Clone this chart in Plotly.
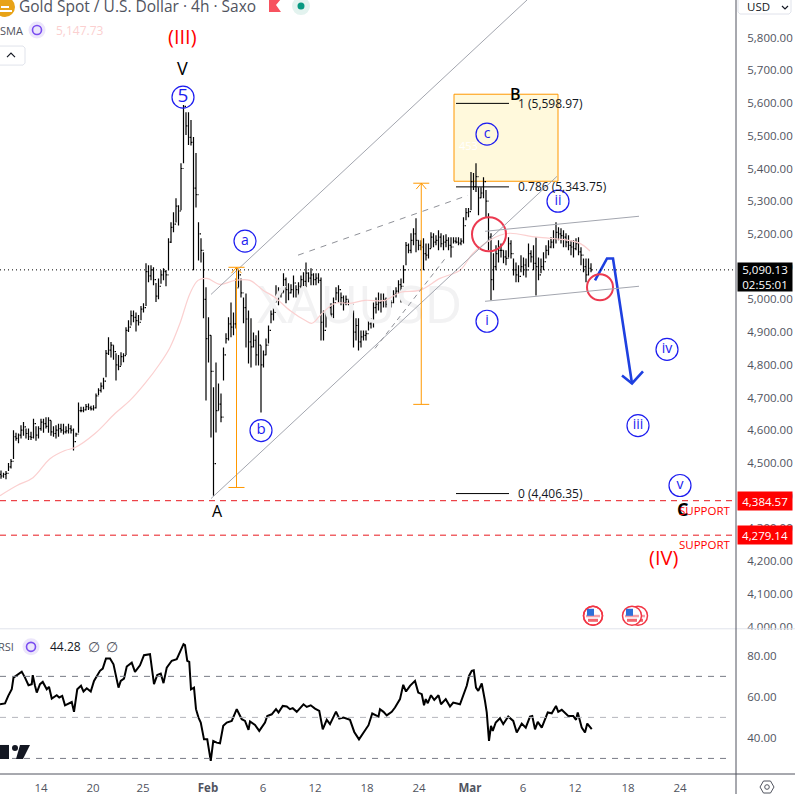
import plotly.graph_objects as go

# XAUUSD 4h, values, one bar per entry
bar_high = [
    4477,4470,4475,4500,4512,4600,4592,4590,4615,4625,
    4605,4605,4595,4635,4612,4612,4635,4635,4640,4640,
    4630,4612,4615,4620,4620,4620,4612,4620,4615,4605,
    4592,4685,4672,4672,4680,4682,4675,4676,4712,4728,
    4746,4760,4845,4884,4870,4860,4835,4830,4838,4835,
    4915,4936,4966,4966,4960,4952,4980,4988,5110,5104,
    5104,5098,5050,5064,5089,5095,5090,5187,5236,5266,
    5309,5288,5416,5594,5572,5572,5548,5496,5447,5236,
    5187,5144,5037,4945,4890,4731,4807,4743,4712,4853,
    4896,4945,4990,4960,5064,5089,5064,5006,5018,4966,
    4942,4899,4890,4905,4859,4844,4880,4920,4966,4975,
    5043,5037,5034,5080,5067,5049,5046,5073,5043,5052,
    5073,5083,5113,5083,5095,5080,5080,5080,5067,4966,
    4990,4988,4988,5006,5037,5043,5021,5012,5012,4997,
    4997,4966,4942,4942,4905,4905,4905,4942,4942,4990,
    5006,5021,5018,5018,5006,5003,4997,5028,5037,5058,
    5064,5104,5175,5171,5202,5217,5248,5181,5181,5187,
    5171,5171,5205,5202,5196,5211,5202,5196,5199,5190,
    5190,5190,5190,5190,5187,5251,5279,5279,5389,5386,
    5416,5343,5343,5373,5334,5263,5202,5141,5165,5181,
    5171,5150,5150,5190,5181,5125,5113,5104,5135,5128,
    5125,5171,5150,5165,5190,5128,5125,5144,5165,5181,
    5190,5211,5236,5220,5217,5211,5202,5196,5181,5181,
    5187,5190,5159,5125,5125,5125,5110,
]
bar_low = [
    4452,4455,4450,4475,4483,4512,4568,4560,4575,4583,
    4575,4570,4570,4575,4568,4575,4598,4592,4605,4592,
    4583,4580,4575,4580,4592,4587,4590,4590,4590,4538,
    4580,4592,4655,4655,4660,4662,4660,4660,4666,4708,
    4715,4725,4762,4830,4822,4815,4752,4783,4798,4808,
    4830,4900,4920,4930,4902,4920,4936,4960,4980,5052,
    5058,5043,4992,5000,5048,5058,5040,5089,5172,5205,
    5235,5226,5272,5416,5502,5472,5470,5089,5281,5119,
    5113,4942,4691,4807,4578,4400,4593,4660,4624,4752,
    4865,4874,4884,4890,4911,5037,5006,4927,4853,4804,
    4792,4853,4798,4798,4654,4792,4829,4865,4927,4935,
    4990,4982,5006,5021,4988,4997,5018,5006,5006,5012,
    5034,5037,5037,5052,5043,5043,5043,5049,4874,4874,
    4914,4942,4942,4942,4997,4990,4982,4966,4982,4982,
    4982,4853,4874,4844,4853,4874,4874,4905,4911,4914,
    4957,4966,4960,4975,4975,4978,4975,4988,5006,5018,
    4990,5049,5104,5141,5141,5165,5144,5150,5150,5089,
    5119,5125,5156,5159,5165,5150,5159,5150,5159,5150,
    5128,5171,5171,5165,5165,5171,5242,5251,5272,5334,
    5328,5257,5309,5309,5251,5150,4997,5028,5089,5113,
    5128,5110,5104,5128,5125,5073,5052,5052,5083,5073,
    5067,5098,5113,5089,5012,5058,5080,5089,5125,5135,
    5156,5156,5171,5181,5171,5159,5159,5150,5135,5128,
    5150,5135,5104,5083,5052,5073,5083,
]
bar_close = [
    4460,4465,4468,4488,4505,4580,4575,4585,4600,4610,
    4590,4580,4578,4620,4585,4605,4625,4620,4612,4630,
    4595,4590,4600,4605,4600,4595,4598,4605,4600,4565,
    4588,4660,4660,4662,4672,4668,4665,4668,4705,4722,
    4735,4750,4835,4845,4860,4840,4800,4795,4825,4828,
    4905,4915,4950,4945,4935,4930,4970,4975,5085,5072,
    5090,5060,5010,5040,5075,5085,5075,5175,5220,5230,
    5285,5270,5400,5590,5530,5495,5480,5340,5320,5200,
    5150,5000,4880,4890,4780,4498,4660,4680,4640,4830,
    4880,4925,4915,4925,5035,5075,5020,4975,4940,4870,
    4855,4875,4830,4860,4800,4830,4860,4905,4955,4960,
    5000,5025,5020,5060,5030,5020,5030,5050,5030,5040,
    5060,5055,5080,5065,5075,5060,5065,5058,4930,4905,
    4960,4975,4955,4990,5020,5030,5005,4990,5000,4990,
    4985,4900,4920,4870,4885,4890,4895,4925,4930,4975,
    4985,4990,4995,5000,4985,4995,4990,5015,5025,5045,
    5040,5090,5165,5150,5180,5200,5180,5165,5160,5140,
    5135,5155,5190,5175,5180,5190,5170,5175,5180,5165,
    5160,5178,5175,5172,5178,5225,5265,5268,5360,5345,
    5375,5310,5325,5360,5300,5190,5060,5100,5140,5150,
    5150,5130,5125,5170,5140,5090,5075,5070,5100,5105,
    5090,5140,5130,5110,5100,5075,5100,5115,5150,5160,
    5175,5185,5205,5200,5195,5190,5175,5165,5160,5155,
    5170,5145,5135,5100,5075,5095,5090.13,
]
bar_open = [
    4465,4460,4465,4468,4488,4505,4580,4575,4585,4600,
    4610,4590,4580,4578,4620,4585,4605,4625,4620,4612,
    4630,4595,4590,4600,4605,4600,4595,4598,4605,4600,
    4565,4588,4660,4660,4662,4672,4668,4665,4668,4705,
    4722,4735,4750,4835,4845,4860,4840,4800,4795,4825,
    4828,4905,4915,4950,4945,4935,4930,4970,4975,5085,
    5072,5090,5060,5010,5040,5075,5085,5075,5175,5220,
    5230,5285,5270,5400,5590,5530,5495,5480,5340,5320,
    5200,5150,5000,4880,4890,4780,4498,4660,4680,4640,
    4830,4880,4925,4915,4925,5035,5075,5020,4975,4940,
    4870,4855,4875,4830,4860,4800,4830,4860,4905,4955,
    4960,5000,5025,5020,5060,5030,5020,5030,5050,5030,
    5040,5060,5055,5080,5065,5075,5060,5065,5058,4930,
    4905,4960,4975,4955,4990,5020,5030,5005,4990,5000,
    4990,4985,4900,4920,4870,4885,4890,4895,4925,4930,
    4975,4985,4990,4995,5000,4985,4995,4990,5015,5025,
    5045,5040,5090,5165,5150,5180,5200,5180,5165,5160,
    5140,5135,5155,5190,5175,5180,5190,5170,5175,5180,
    5165,5160,5178,5175,5172,5178,5225,5265,5268,5360,
    5345,5375,5310,5325,5360,5300,5190,5060,5100,5140,
    5150,5150,5130,5125,5170,5140,5090,5075,5070,5100,
    5105,5090,5140,5130,5110,5100,5075,5100,5115,5150,
    5160,5175,5185,5205,5200,5195,5190,5175,5165,5160,
    5155,5170,5145,5135,5100,5075,5095,
]

sma_idx = [
    -0.4,6.4,12.8,19.6,25.6,29.6,37.6,45.6,51.6,57.6,63.6,67.6,71.6,75.6,78.8,82.4,
    87.6,93.6,99.6,104.8,109.6,115.6,121.6,124.4,128.4,133.6,139.6,145.6,153.6,159.6,
    167.6,175.6,183.6,188.8,195.6,199.6,203.6,214.4,226.4,231.6,235.6,
]
sma_val = [
    4400,4431,4455,4513,4538,4547,4590,4651,4691,4743,4804,4853,4927,5018,5058,5064,
    5046,5058,5058,5028,5006,4966,4936,4927,4957,4988,4988,4997,4997,5021,
    5028,5064,5089,5141,5181,5196,5202,5190,5181,5171,5147.73,
]

rsi_idx = [
    -0.4,1.6,2.9,4.3,5,7,8.3,9.6,11,12.3,12.7,13.6,14.3,15.6,16.7,18.3,19.2,20.3,22.3,23.3,
    24.5,25.6,28.3,29.2,30.5,32,33,34.3,35.9,37.2,39.6,40.7,42,43.6,45,47,47.9,49.2,50.3,52.3,
    53.6,55.6,57.2,59.6,61.2,62.5,63.9,65,66.3,68.3,70.3,73,73.6,74.5,75.3,76,77.2,78,79,79.9,
    81.2,82.5,83.9,84.9,86.3,87.6,88.9,90.3,92.3,94.3,96.3,97.6,99,99.6,101.6,103.3,105.6,106.5,108.3,110,
    111,112.7,114.3,115.6,116.7,118.3,121,122.3,123.9,125.6,127.3,128.7,130.3,131.6,134,135.3,137,139.6,141.3,143.2,
    145,147,148.5,151,151.6,153,154.3,156.3,157.6,159.6,160.9,162,163.6,165.6,166.9,168.3,169.2,169.9,170.7,172,
    173.3,175,176,177.9,179.6,180.9,183.6,184.9,186.3,187.2,188.3,189.1,190,190.9,192.3,193.6,194.3,195.2,196,196.7,
    197.9,199.6,200.9,202.9,204.9,206.3,208.3,209.9,211.6,212.5,213.6,214.7,216.3,218.7,220.3,222,222.9,224.3,226.9,228.9,
    230,230.7,232.3,233.6,234.5,236.3,
]
rsi_val = [
    56.4,56.8,60.5,63.7,69.4,71,72.3,69.4,65.7,66.2,70.6,65.4,62.1,66.2,67.3,63.7,64.9,59.2,60.8,59.7,
    60.5,55.9,57.5,52.7,63.7,65.4,62.6,64.2,62.6,67.8,72.7,73.8,78.7,78.7,75.9,64.5,67.8,68.9,74.8,76.7,
    72.2,75.4,80.3,80.8,66.2,70.7,71.4,66.7,74.3,77.6,78.4,85.7,85.2,77.6,77.1,63.7,64.5,54,49.9,47.5,
    39.3,39.3,28.8,38.5,37.7,37.4,45.9,47.5,48.3,54,49.1,48.3,43.9,48,46.3,43.4,47.5,50.7,51.5,54,
    52.4,55.6,55.3,54,54.5,52.7,56.4,55.1,55.9,54.3,53.2,44.2,48.8,46.7,52.8,49.4,49.9,48.8,42.9,39.3,
    42.6,46.2,51.9,50.4,54,52.7,51,52.7,54.8,58.9,65.9,62.6,65.4,67.8,62.1,61.3,55.9,58.9,56.9,60.8,
    58.5,60.8,56.4,58.9,55.3,57.2,56.4,61.3,65.4,70.2,72.7,73,64.5,62.9,66.5,58,52.4,38.5,45.9,43.4,
    47.5,49.6,46.7,50.4,48.3,42.6,47,45,50.4,50.7,44.2,47.8,45,52.4,52,55.6,52.7,53.7,50.7,50.7,
    48.8,52.4,45,42.6,47,44.28,
]

date_idx = [16,36.8,56.8,82.8,104.8,125.6,146.4,167.2,187.6,208.8,229.6,250.8,271.6]
date_labels = ["14","20","25","<b>Feb</b>","6","12","18","24","<b>Mar</b>","6","12","18","24"]
price_ticks = [4000,4100,4200,4300,4400,4500,4600,4700,4800,4900,5000,5100,5200,5300,5400,5500,5600,5700,5800]
rsi_ticks = [40,60,80]

last_price = 5090.13
support_levels = [4384.57,4279.14]
fib_prices = [5598.97,5343.75,4406.35]
fib_labels = ["1 (5,598.97)","0.786 (5,343.75)","0 (4,406.35)"]

wave_idx = [72.8,97.6,104,194.4,194.4,222.8,254.8,266.4,271.6]
wave_price = [5618,5178,4599,5505,4933,5300,4614,4847,4431]
wave_labels = ["5","a","b","c","i","ii","iii","iv","v"]
wave_sizes = [19,14,15,14,14,14,14,14,14]

ring_idx = [195.2,239.6]
ring_price = [5199,5037]
ring_sizes = [34,26]

arrow_idx = [237.6,242.4,244.8,252.4,None,248.4,252.4,256.8]
arrow_price = [5058,5125,5125,4743,None,4767,4743,4780]

FONT = "Open Sans"
TEXT = "#50535e"
GREY = "#a3a6af"
ORANGE = "#ff9800"
BLUE = "#1c1cf0"
RED = "#ff0000"

# pixel helpers for the chrome around the panes (legend, icons)
def XP(x):
    return x / 736

def YP(y):
    return 1 - y / 773

def line(x0, y0, x1, y1, color, width=1, dash=None, xref="x", yref="y", layer="above"):
    return dict(type="line", x0=x0, y0=y0, x1=x1, y1=y1, xref=xref, yref=yref, layer=layer,
                line=dict(color=color, width=width, dash=dash))

def chrome_path(points, color, width=1, fill=None, close=False):
    d = "M" + " L".join(f"{XP(x):.5f},{YP(y):.5f}" for x, y in points) + (" Z" if close else "")
    return dict(type="path", path=d, xref="paper", yref="paper", layer="above",
                line=dict(color=color, width=width), fillcolor=fill)

def chrome_circle(cx, cy, r, color, width=1, fill=None):
    return dict(type="circle", x0=XP(cx-r), x1=XP(cx+r), y0=YP(cy+r), y1=YP(cy-r), xref="paper", yref="paper",
                layer="above", line=dict(color=color, width=width), fillcolor=fill)

def chrome_rect(x0, y0, x1, y1, fill):
    return dict(type="rect", x0=XP(x0), x1=XP(x1), y0=YP(y1), y1=YP(y0), xref="paper", yref="paper",
                layer="above", line=dict(width=0), fillcolor=fill)

def flag(cx, cy):
    s = [chrome_circle(cx, cy, 9.5, "#f23645", 1.5, "#ffffff"),
         chrome_rect(cx-7, cy-1, cx+7, cy+1.5, "#f5a0a8"),
         chrome_rect(cx-5, cy+3, cx+5, cy+6, "#f2666f"),
         chrome_rect(cx-6, cy-7, cx+1, cy, "#2f6fd8")]
    return s

def sync_icon(cx, cy):
    return [chrome_circle(cx, cy, 8.5, "rgba(0,0,0,0)", 0, "#ece6fb"),
            chrome_circle(cx, cy, 4.5, "#7a4df0", 1.6, "rgba(0,0,0,0)")]

fig = go.Figure()

fig.add_trace(go.Scatter(x=[143.5], y=[4966], mode="text", text=["XAUUSD"], cliponaxis=False, hoverinfo="skip",
                         textfont=dict(family=FONT, size=52, color="#f2f2f3"), textposition="middle center"))
fig.add_trace(go.Scatter(x=sma_idx, y=sma_val, mode="lines", hoverinfo="skip",
                         line=dict(color="#fbd0d0", width=1.2, shape="spline")))
fig.add_trace(go.Ohlc(x=list(range(len(bar_close))), open=bar_open, high=bar_high, low=bar_low, close=bar_close,
                      increasing_line_color="#000000", decreasing_line_color="#000000",
                      line_width=1.2, tickwidth=0.4, hoverinfo="skip"))
fig.add_trace(go.Scatter(x=arrow_idx, y=arrow_price, mode="lines", hoverinfo="skip",
                         line=dict(color="#1e40e0", width=2.6)))
fig.add_trace(go.Scatter(x=ring_idx, y=ring_price, mode="markers", hoverinfo="skip",
                         marker=dict(symbol="circle-open", size=ring_sizes, opacity=1, color="#ec3a50",
                                     line=dict(width=2, color="#ec3a50"))))
fig.add_trace(go.Scatter(x=wave_idx, y=wave_price, mode="markers+text", text=wave_labels, hoverinfo="skip",
                         textposition="middle center", cliponaxis=False,
                         textfont=dict(family=FONT, size=wave_sizes, color=BLUE),
                         marker=dict(size=22, color="rgba(255,255,255,0)", line=dict(width=1.2, color=BLUE))))
fig.add_trace(go.Scatter(x=rsi_idx, y=rsi_val, mode="lines", xaxis="x2", yaxis="y2", hoverinfo="skip",
                         line=dict(color="#000000", width=2)))

shapes = []
# drawn tools, anchored on bar number and price
shapes.append(dict(type="rect", x0=181.2, x1=222.8, y0=5361, y1=5627, xref="x", yref="y", layer="below",
                   fillcolor="#fff9dc", line=dict(color=ORANGE, width=1)))
shapes += [line(84, 5015, 210.4, 5915, GREY),
           line(84, 4391, 222.4, 5376, GREY),
           line(118.8, 5135, 186.8, 5318, "#8f9198", 1, "6px,6px"),
           line(149.6, 4850, 178.4, 5132, "#8f9198", 1, "5px,4px"),
           line(193.6, 5208, 255.2, 5254, GREY),
           line(193.6, 4994, 255.2, 5040, GREY)]
for x, top, bottom in [(94.2, 5098, 4425), (168.1, 5355, 4679)]:
    shapes += [line(x, top, x, bottom, ORANGE),
               line(x-3.2, top, x+3.2, top, ORANGE),
               line(x-3.2, bottom, x+3.2, bottom, ORANGE),
               line(x-2, top-18, x, top, ORANGE),
               line(x+2, top-18, x, top, ORANGE)]
for p in fib_prices:
    shapes.append(line(182, p, 203.2, p, "#000000"))
for p in support_levels:
    shapes.append(line(-0.4, p, 294, p, "#e8181e", 1, "6px,5px"))
shapes.append(line(-0.4, last_price, 294, last_price, "#000000", 1, "1px,3px"))
for level, color in [(70, "#787b86"), (50, "#b4b6bc"), (30, "#787b86")]:
    shapes.append(line(-0.4, level, 292, level, color, 1, "6px,6px", xref="x2", yref="y2"))

# pane borders
shapes += [line(0, YP(628), 795/736, YP(628), "#e0e3eb", 1, None, "paper", "paper"),
           line(0, YP(773), 795/736, YP(773), "#50535e", 1, None, "paper", "paper"),
           line(1, YP(0), 1, YP(794), "#50535e", 1, None, "paper", "paper")]
shapes.append(chrome_rect(737, 629, 795, 635, "#ffffff"))

# legend icons
shapes.append(chrome_circle(5, 7, 10, "#e8a317", 0, "#e8a317"))
shapes += [chrome_rect(1, 6, 9, 8, "#ffffff"), chrome_rect(0, 10, 12, 12, "#ffffff")]
shapes.append(chrome_path([(269, -1), (281, -1), (276, 5), (281, 12), (269, 12)], "#f7525f", 0, "#f7525f", True))
shapes += [chrome_circle(301, 6, 9, "#e3f3ef", 0, "#e3f3ef"), chrome_circle(301, 6, 3.5, "#089981", 0, "#089981")]
shapes += sync_icon(37, 30) + sync_icon(31, 646)
shapes += [chrome_path([(-3, 46), (23, 46), (25, 48), (25, 63), (23, 65), (-3, 65)], "#e0e3eb"),
           chrome_path([(7, 57), (11, 53), (15, 57)], "#131722", 1.2)]
shapes += [chrome_path([(738, -3), (738, 12), (740, 14), (789, 14), (791, 12), (791, -3)], "#e0e3eb"),
           chrome_path([(782, 6), (785, 9), (788, 6)], "#131722", 1.2)]
# chart logo, cut off by the pane
shapes += [chrome_rect(0, 744, 9, 758, "#131722"),
           chrome_circle(15, 747, 3, "#131722", 0, "#131722"),
           chrome_path([(20, 744), (30, 744), (23, 758), (16, 758)], "#131722", 0, "#131722", True)]
# calendar flags
for cx in (638, 632, 593):
    shapes += flag(cx, 615)
shapes.append(chrome_circle(593, 615, 9.5, "#f23645", 1.5))
# settings gear
shapes += [chrome_path([(760, 786), (763.5, 780), (770.5, 780), (774, 786), (770.5, 792), (763.5, 792)], "#50535e", 1, None, True),
           chrome_circle(767, 786, 2.3, "#50535e", 1)]

def data_text(x, y, text, size, color, xanchor="center", weight=None):
    return dict(x=x, y=y, xref="x", yref="y", text=text, showarrow=False, xanchor=xanchor, yanchor="middle",
                font=dict(family=FONT, size=size, color=color, weight=weight))

def chrome_text(x, y, text, size, color, xanchor="left"):
    return dict(x=XP(x), y=YP(y), xref="paper", yref="paper", text=text, showarrow=False, xanchor=xanchor,
                yanchor="middle", font=dict(family=FONT, size=size, color=color))

def price_tag(text, fill, height, center):
    return dict(x=737/736, y=center, xref="paper", yref="y", text=text, showarrow=False, xanchor="left",
                yanchor="middle", width=54, height=height, bgcolor=fill, align="center", borderpad=0,
                font=dict(family=FONT, size=11.5, color="#ffffff"))

annotations = [
    data_text(72.4, 5802, "(III)", 20, RED),
    data_text(72.4, 5707, "V", 18, "#000000"),
    data_text(205.6, 5627, "B", 16, "#000000", weight=600),
    data_text(86.4, 4354, "A", 16, "#000000"),
    data_text(272.4, 4360, "C", 18, "#000000", weight=700),
    data_text(281.4, 4354, "SUPPORT", 11.5, RED),
    data_text(281.4, 4250, "SUPPORT", 11.5, RED),
    data_text(264.8, 4210, "(IV)", 20, RED),
    data_text(182.4, 5470, "453", 11, "#ffffff", "left"),
]
for p, t in zip(fib_prices, fib_labels):
    annotations.append(data_text(206, p, t, 12, "#131722", "left"))
annotations += [price_tag(f"{p:,.2f}", RED, 18, p) for p in support_levels]
annotations.append(price_tag(f"{last_price:,.2f}<br>02:55:01", "#000000", 28, 5067))
annotations += [
    chrome_text(17, 6, "Gold Spot / U.S. Dollar · 4h · Saxo", 15.5, TEXT),
    chrome_text(-2, 30, "SMA", 11, TEXT),
    chrome_text(54, 30, "5,147.73", 12, "#fbd0d0"),
    chrome_text(-4, 646, "RSI", 11, TEXT),
    chrome_text(48, 646, "44.28", 12, "#131722"),
    chrome_text(86, 646, "∅", 14, TEXT),
    chrome_text(104, 646, "∅", 14, TEXT),
    chrome_text(745, 6, "USD", 11.5, "#131722"),
]

fig.update_layout(
    width=795, height=794,
    margin=dict(l=0, r=59, t=0, b=20),
    paper_bgcolor="#ffffff", plot_bgcolor="#ffffff",
    showlegend=False,
    hovermode=False,
    shapes=shapes,
    annotations=annotations,
    font=dict(family=FONT, size=11.5, color=TEXT),
    xaxis=dict(domain=[0, 1], range=[-0.4, 294], anchor="y", showgrid=False, zeroline=False,
               showticklabels=False, ticks="", rangeslider=dict(visible=False)),
    yaxis=dict(domain=[0.1876, 1], range=[3993, 5915], side="right", anchor="x", showgrid=False, zeroline=False,
               tickmode="array", tickvals=price_ticks, tickformat=",.2f", ticks="outside", ticklen=8,
               tickcolor="rgba(0,0,0,0)"),
    xaxis2=dict(domain=[0, 1], range=[-0.4, 294], anchor="y2", showgrid=False, zeroline=False,
                tickmode="array", tickvals=date_idx, ticktext=date_labels, ticks="outside", ticklen=3,
                tickcolor="rgba(0,0,0,0)"),
    yaxis2=dict(domain=[0, 0.1863], range=[22.4, 92.7], side="right", anchor="x2", showgrid=False, zeroline=False,
                tickmode="array", tickvals=rsi_ticks, tickformat=".2f", ticks="outside", ticklen=8,
                tickcolor="rgba(0,0,0,0)"),
)

fig.write_html("out.html", config=dict(displayModeBar=False),
               post_script="document.body.style.margin='0';document.documentElement.style.overflow='hidden';")
